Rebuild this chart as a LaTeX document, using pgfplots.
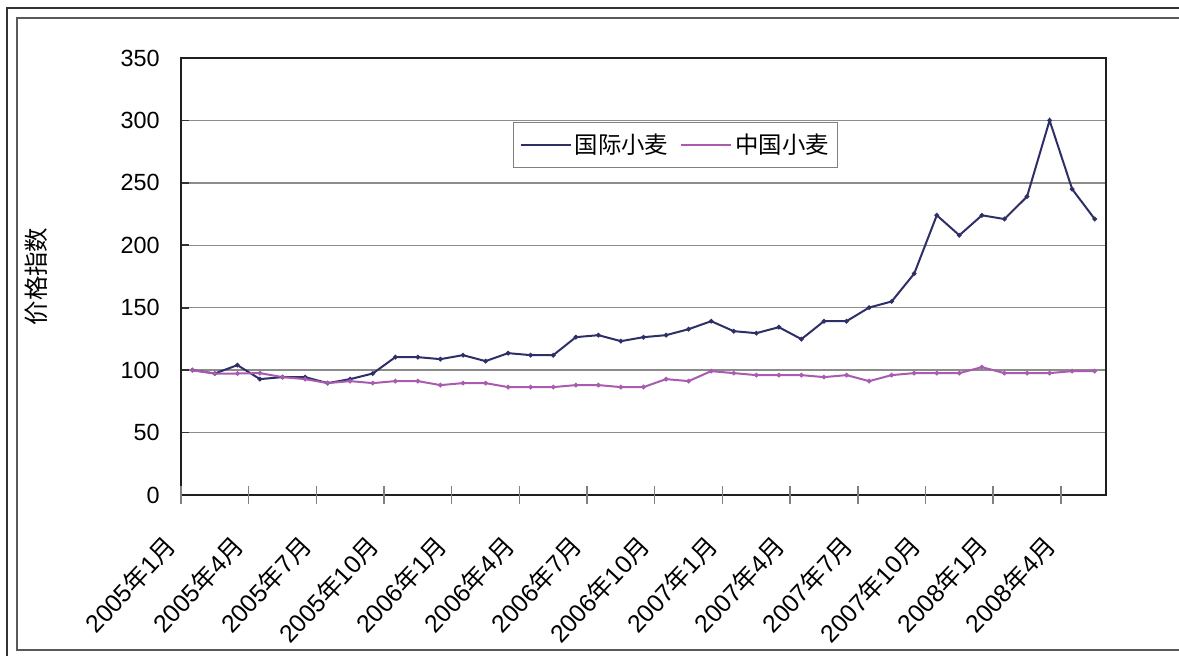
\documentclass[border=0pt]{standalone}
\usepackage{fontspec}
\setmainfont{Liberation Sans}
\newfontfamily\cjk{Noto Sans CJK SC}
\usepackage{pgfplots}
\pgfplotsset{compat=1.18}
\definecolor{intl}{HTML}{2E2F66}
\definecolor{cn}{HTML}{A85BAF}
\newcommand{\fs}{\fontsize{11.7}{14}\selectfont}
\newcommand{\lab}[2]{#1{\cjk 年}#2{\cjk 月}}
\begin{document}
\begin{tikzpicture}
\useasboundingbox (0,0) rectangle (589.5pt,328pt);
\begin{scope}
\clip (0,0) rectangle (589.5pt,328pt);
\draw[line width=1pt, draw=black!80] (3.5pt,324pt) rectangle (600pt,-5pt);
\draw[line width=1pt, draw=black!65] (8.5pt,319pt) rectangle (595pt,3pt);
\end{scope}
\begin{axis}[
  at={(90.5pt,80.5pt)}, anchor=south west,
  scale only axis, width=462.5pt, height=218.5pt,
  xmin=-0.5, xmax=40.5, ymin=0, ymax=350,
  ytick={0,50,100,150,200,250,300,350},
  ymajorgrids, grid style={draw=black!45, line width=0.7pt},
  axis line style={draw=black!88, line width=1.4pt},
  tick pos=left,
  tick align=inside, major tick length=4pt,
  tick style={draw=black!80, line width=0.8pt},
  xtick=\empty,
  extra x ticks={-0.5,2.5,5.5,8.5,11.5,14.5,17.5,20.5,23.5,26.5,29.5,32.5,35.5,38.5},
  extra x tick labels={\lab{2005}{1},\lab{2005}{4},\lab{2005}{7},\lab{2005}{10},
    \lab{2006}{1},\lab{2006}{4},\lab{2006}{7},\lab{2006}{10},
    \lab{2007}{1},\lab{2007}{4},\lab{2007}{7},\lab{2007}{10},
    \lab{2008}{1},\lab{2008}{4}},
  extra x tick style={tick align=center, major tick length=9pt, xtick pos=bottom,
    tick style={draw=black!50, line width=0.7pt},
    xticklabel style={font=\fontsize{12.4}{14}\selectfont, inner sep=0pt, xshift=-5pt, yshift=-18.5pt, rotate=47, anchor=east}},
  /pgf/number format/assume math mode=true,
  yticklabel style={font=\fs, inner sep=0pt, xshift=-10.5pt, anchor=east},
  ylabel={\cjk 价格指数},
  every axis y label/.style={at={(axis description cs:-0.1568,0.5)}, rotate=90, anchor=center, font=\fontsize{12.2}{14}\selectfont},
  legend columns=-1,
  legend style={at={(0.359,0.8535)}, anchor=north west, draw=black!50, line width=0.6pt,
    inner xsep=3pt, inner ysep=4pt, nodes={inner sep=1.5pt, font=\fs},
    /tikz/every even column/.append style={column sep=4.5pt}},
  legend image code/.code={\draw[#1] (0pt,0pt) -- (25pt,0pt);},
]
\addplot[color=intl, line width=1pt, mark=*, mark size=0.6pt] coordinates {
(0,100) (1,97.3) (2,104) (3,92.8) (4,94.4) (5,94.4) (6,89.6) (7,92.8) (8,97.3) (9,110.4)
(10,110.4) (11,108.8) (12,112) (13,107.2) (14,113.6) (15,112) (16,112) (17,126.4) (18,128) (19,123.2)
(20,126.4) (21,128) (22,132.8) (23,139.2) (24,131.2) (25,129.6) (26,134.4) (27,124.8) (28,139.2) (29,139.2)
(30,150.1) (31,155) (32,177.3) (33,224) (34,208) (35,224) (36,221) (37,239) (38,300) (39,245) (40,221)
};
\addlegendentry{\cjk 国际小麦}
\addplot[color=cn, line width=1pt, mark=*, mark size=0.6pt] coordinates {
(0,100) (1,97.3) (2,97.3) (3,97.6) (4,94.4) (5,92.8) (6,89.6) (7,91.2) (8,89.6) (9,91.2)
(10,91.2) (11,88) (12,89.6) (13,89.6) (14,86.4) (15,86.4) (16,86.4) (17,88) (18,88) (19,86.4)
(20,86.4) (21,92.8) (22,91.2) (23,99.2) (24,97.6) (25,96) (26,96) (27,96) (28,94.4) (29,96)
(30,91.2) (31,96) (32,97.6) (33,97.6) (34,97.6) (35,102.4) (36,97.6) (37,97.6) (38,97.6) (39,99.2) (40,99.2)
};
\addlegendentry{\cjk 中国小麦\hspace{7pt}}
\end{axis}
\end{tikzpicture}
\end{document}
